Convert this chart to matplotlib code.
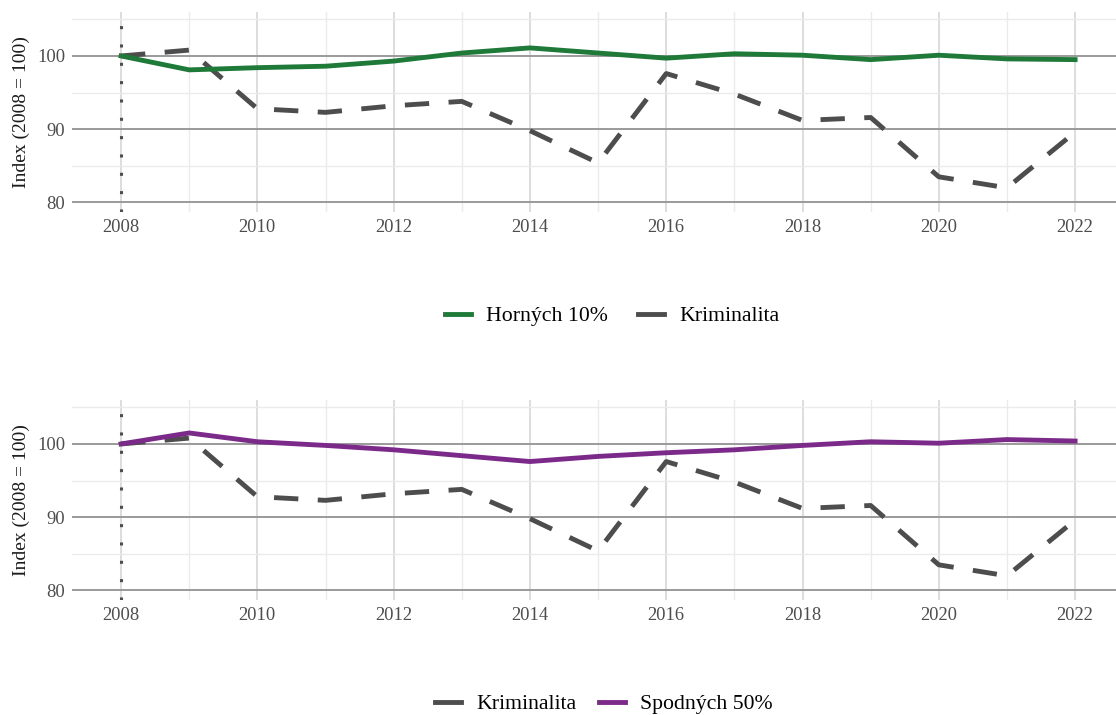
import matplotlib
matplotlib.use("Agg")
import matplotlib.pyplot as plt
from matplotlib.lines import Line2D
from matplotlib.ticker import MultipleLocator

plt.rcParams['font.family'] = ['Liberation Serif', 'DejaVu Serif']

years = list(range(2008, 2023))
kriminalita = [100, 100.8, 92.8, 92.3, 93.2, 93.8, 89.8, 85.4, 97.6, 94.8, 91.2, 91.6, 83.5, 82.0, 89.6]
hornych10 = [100, 98.1, 98.4, 98.6, 99.3, 100.4, 101.1, 100.4, 99.7, 100.3, 100.1, 99.5, 100.1, 99.6, 99.5]
spodnych50 = [100, 101.5, 100.3, 99.8, 99.2, 98.4, 97.6, 98.3, 98.8, 99.2, 99.8, 100.3, 100.1, 100.6, 100.4]

c_green = '#1f7a3a'
c_purple = '#7b2a8a'
c_crime = '#4d4d4d'

fig = plt.figure(figsize=(11.16, 7.15), dpi=100)
W, H = 1116, 715
DASH = (0, (5.0, 4.0))

def make_ax(top_px, bot_px):
    ax = fig.add_axes([72 / W, 1 - bot_px / H, (W - 72) / W, (bot_px - top_px) / H])
    ax.set_xlim(2007.28, 2022.6)
    ax.set_ylim(78.7, 106.0)
    ax.set_xticks(range(2008, 2023, 2))
    ax.set_yticks([80, 90, 100])
    ax.xaxis.set_minor_locator(MultipleLocator(1))
    ax.yaxis.set_minor_locator(MultipleLocator(5))
    ax.grid(which='minor', color='#ebebeb', lw=1.0)
    ax.grid(which='major', axis='x', color='#d3d3d3', lw=1.1)
    ax.grid(which='major', axis='y', color='#9a9a9a', lw=1.4)
    ax.set_axisbelow(True)
    for s in ax.spines.values():
        s.set_visible(False)
    ax.tick_params(which='both', length=0, labelsize=13.3, labelcolor='#4d4d4d', pad=5)
    ax.set_ylabel('Index (2008 = 100)', fontsize=14, color='#1a1a1a', labelpad=5)
    ax.axvline(2008, color='#4d4d4d', lw=2.2, ls=(0, (1, 5)))
    return ax

ax1 = make_ax(12, 212)
ax1.plot(years, kriminalita, color=c_crime, lw=3.5, ls=DASH, dash_capstyle='butt')
ax1.plot(years, hornych10, color=c_green, lw=3.5)
h1 = [Line2D([], [], color=c_green, lw=3.5), Line2D([], [], color=c_crime, lw=3.5)]
fig.legend(h1, ['Horných 10%', 'Kriminalita'], loc='center',
           bbox_to_anchor=(612 / W, 1 - 316 / H), ncol=2, frameon=False, fontsize=15.7,
           handlelength=1.2, columnspacing=1.35, handletextpad=0.7)

ax2 = make_ax(400, 600)
ax2.plot(years, kriminalita, color=c_crime, lw=3.5, ls=DASH, dash_capstyle='butt')
ax2.plot(years, spodnych50, color=c_purple, lw=3.5)
h2 = [Line2D([], [], color=c_crime, lw=3.5), Line2D([], [], color=c_purple, lw=3.5)]
fig.legend(h2, ['Kriminalita', 'Spodných 50%'], loc='center',
           bbox_to_anchor=(604 / W, 1 - 704 / H), ncol=2, frameon=False, fontsize=15.7,
           handlelength=1.2, columnspacing=1.0, handletextpad=0.7)

fig.savefig('out.png', dpi=100, facecolor='white')
